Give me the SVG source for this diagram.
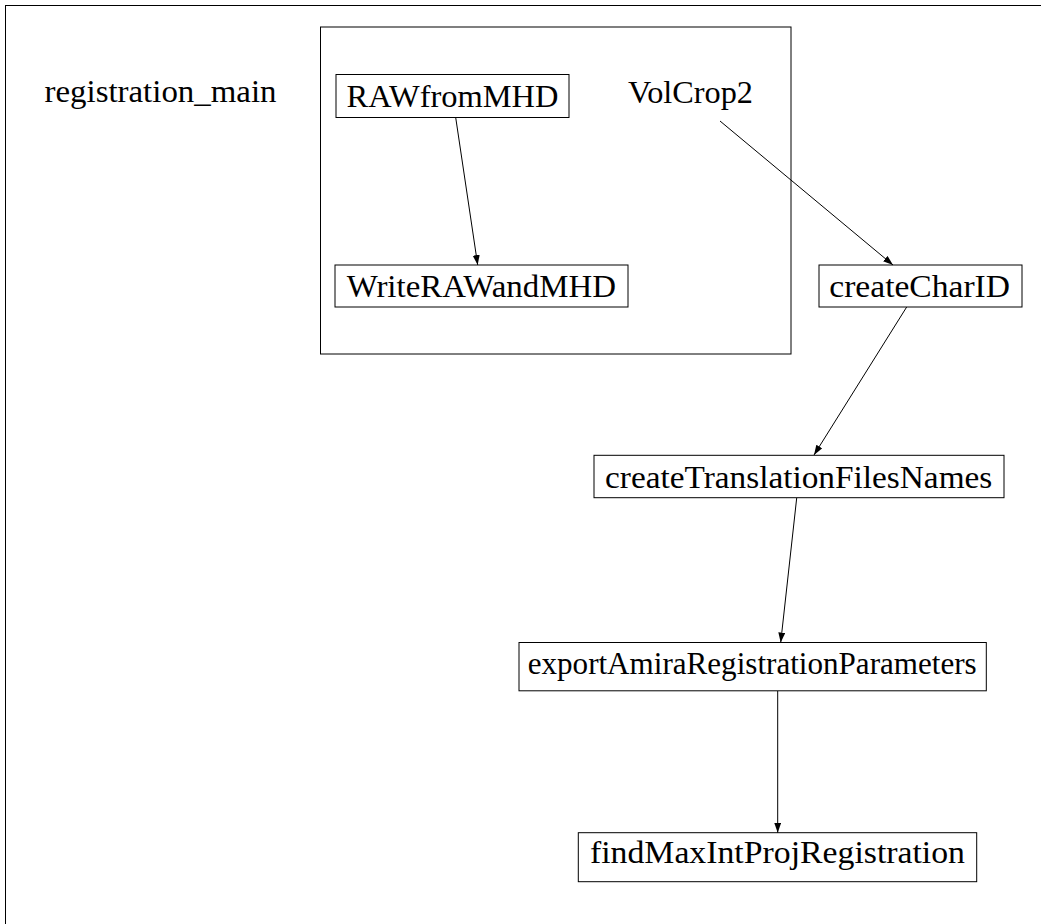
<svg xmlns="http://www.w3.org/2000/svg" width="1041" height="924" viewBox="0 0 1041 924">
<style>
.box{fill:#fff;stroke:#000;stroke-width:1}
.lbl{font-family:"Liberation Serif","DejaVu Serif",serif;font-size:32px;fill:#000}
.edge{stroke:#000;stroke-width:1;fill:none}
</style>
<defs>
<marker id="arr" markerUnits="userSpaceOnUse" markerWidth="11" markerHeight="8" refX="10" refY="3.5" orient="auto">
<path d="M0,0 L10,3.5 L0,7 Z" fill="#000"/>
</marker>
</defs>
<rect x="5.5" y="5.5" width="1050" height="930" fill="#fff" stroke="#000" stroke-width="1"/>
<g id="cluster_registration_main">
<rect x="320.5" y="27" width="470.5" height="327" fill="none" stroke="#000" stroke-width="1"/>
</g>
<g id="label_registration_main">
<text class="lbl" x="44.5" y="102" textLength="232" lengthAdjust="spacingAndGlyphs">registration_main</text>
</g>
<g id="node_RAWfromMHD">
<rect class="box" x="336" y="74.5" width="233" height="43"/>
<text class="lbl" x="346.5" y="107.3" textLength="212" lengthAdjust="spacingAndGlyphs">RAWfromMHD</text>
</g>
<g id="node_VolCrop2">
<text class="lbl" x="628" y="103.3" textLength="125" lengthAdjust="spacingAndGlyphs">VolCrop2</text>
</g>
<g id="node_WriteRAWandMHD">
<rect class="box" x="335" y="265" width="293" height="42"/>
<text class="lbl" x="346.7" y="296.7" textLength="269.3" lengthAdjust="spacingAndGlyphs">WriteRAWandMHD</text>
</g>
<g id="node_createCharID">
<rect class="box" x="819" y="265" width="203" height="42"/>
<text class="lbl" x="829.3" y="296.7" textLength="180.7" lengthAdjust="spacingAndGlyphs">createCharID</text>
</g>
<g id="node_createTranslationFilesNames">
<rect class="box" x="594" y="455.3" width="410" height="42.4"/>
<text class="lbl" x="605" y="487.7" textLength="387.3" lengthAdjust="spacingAndGlyphs">createTranslationFilesNames</text>
</g>
<g id="node_exportAmiraRegistrationParameters">
<rect class="box" x="519" y="642.5" width="467.3" height="48.3"/>
<text class="lbl" x="527.7" y="674.3" textLength="449" lengthAdjust="spacingAndGlyphs">exportAmiraRegistrationParameters</text>
</g>
<g id="node_findMaxIntProjRegistration">
<rect class="box" x="578.3" y="832.7" width="398.4" height="49"/>
<text class="lbl" x="590" y="863.3" textLength="375" lengthAdjust="spacingAndGlyphs">findMaxIntProjRegistration</text>
</g>
<g id="connectors">
<line class="edge" x1="455.7" y1="117.5" x2="477.7" y2="265" marker-end="url(#arr)"/>
<line class="edge" x1="720" y1="121" x2="893" y2="265" marker-end="url(#arr)"/>
<line class="edge" x1="906.7" y1="307" x2="814" y2="455" marker-end="url(#arr)"/>
<line class="edge" x1="796.7" y1="498" x2="780.7" y2="642.5" marker-end="url(#arr)"/>
<line class="edge" x1="777.7" y1="691" x2="777.7" y2="832.7" marker-end="url(#arr)"/>
</g>
</svg>
